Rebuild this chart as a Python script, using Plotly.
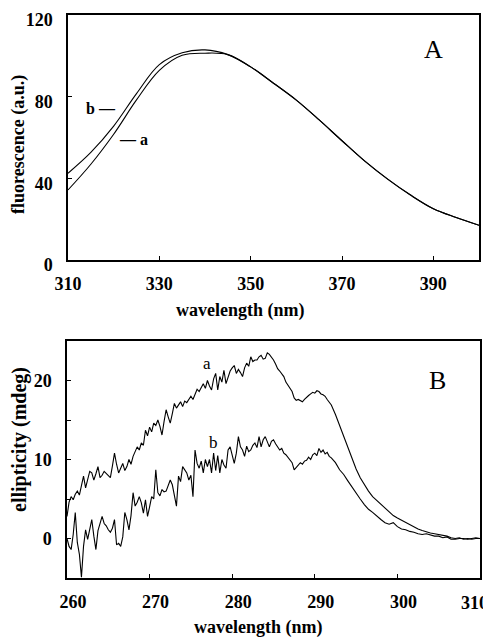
import plotly.graph_objects as go

# ---------------- Panel A: fluorescence ----------------
fl_wl = [310, 315, 320, 325, 330, 335, 340, 345, 350, 355, 360, 365, 370, 375, 380, 385, 390, 395, 400]
fl_a = [34.3, 46.9, 61.6, 78.4, 92.9, 100.3, 101.3, 100.6, 94.6, 86.6, 78.3, 68.6, 58.4, 48.4, 39.6, 31.8, 25.1, 20.8, 17.0]
fl_b = [42.5, 52.7, 65.6, 81.5, 95.7, 101.5, 102.9, 100.6, 94.6, 86.6, 78.3, 68.6, 58.4, 48.4, 39.6, 31.8, 25.1, 20.8, 17.0]
fl_xticks = [310, 330, 350, 370, 390]
fl_yticks = [0, 40, 80, 120]

# ---------------- Panel B: circular dichroism ----------------
# 260.00 .. 292.00 nm in 0.25 nm steps (one row per nm), then 292.5 .. 310 nm in 0.5 nm steps
cd_a_fine = [
    2.8, 4.6, 5.3, 4.9,      # 260
    5.6, 6.0, 5.5, 6.6,      # 261
    7.9, 6.4, 7.6, 8.5,      # 262
    8.3, 7.4, 8.2, 9.1,      # 263
    7.7, 8.0, 8.5, 8.2,      # 264
    7.9, 7.7, 9.2, 10.8,     # 265
    9.4, 8.3, 8.9, 9.5,      # 266
    8.6, 9.1, 10.0, 9.4,     # 267
    10.4, 11.0, 11.6, 11.2,  # 268
    12.1, 11.8, 13.7, 13.0,  # 269
    14.1, 13.5, 14.6, 14.3,  # 270
    15.0, 14.2, 13.1, 14.8,  # 271
    16.3, 15.4, 14.6, 15.8,  # 272
    17.1, 16.5, 16.9, 17.3,  # 273
    16.7, 17.4, 17.2, 17.7,  # 274
    18.0, 17.6, 18.4, 18.9,  # 275
    18.6, 19.2, 19.6, 19.0,  # 276
    20.0, 19.3, 18.8, 20.2,  # 277
    20.9, 18.8, 20.5, 19.8,  # 278
    21.3, 19.6, 20.4, 21.2,  # 279
    21.6, 21.9, 20.9, 21.4,  # 280
    21.0, 20.5, 21.6, 22.2,  # 281
    21.8, 23.0, 22.4, 22.6,  # 282
    22.6, 23.0, 23.2, 22.7,  # 283
    22.8, 23.5, 23.3, 23.0,  # 284
    22.6, 22.1, 21.5, 21.2,  # 285
    20.8, 20.5, 19.8, 19.4,  # 286
    18.9, 18.6, 17.8, 17.5,  # 287
    17.6, 17.5, 17.3, 17.6,  # 288
    17.9, 18.1, 18.3, 18.5,  # 289
    18.4, 18.7, 18.6, 18.3,  # 290
    18.2, 18.0, 17.6, 17.3,  # 291
    16.9,                    # 292
]
cd_a_coarse = [15.7, 14.3, 12.8, 11.4, 10.0, 8.8, 7.7, 6.8, 6.0, 5.3, 4.8, 4.3, 3.8, 3.3, 2.9, 2.6, 2.3, 2.0,
               1.7, 1.4, 1.2, 1.0, 0.8, 0.7, 0.6, 0.5, 0.4, 0.3, 0.1, 0.0, 0.1, -0.1, 0.0, -0.1, 0.0, 0.0]

cd_b_fine = [
    0.0, -1.0, -1.4, 0.5,    # 260
    3.3, -0.5, -2.0, -4.9,   # 261
    -1.0, 1.1, -0.1, 1.2,    # 262
    2.4, 0.3, -1.4, 1.0,     # 263
    2.0, 2.8, 1.9, 1.6,      # 264
    1.1, 0.8, 1.3, 2.4,      # 265
    -0.8, -0.6, -1.0, 0.2,   # 266
    3.3, 2.4, 1.1, 2.9,      # 267
    5.8, 4.1, 4.6, 5.3,      # 268
    4.5, 3.2, 4.9, 2.8,      # 269
    4.0, 5.3, 5.0, 8.7,      # 270
    5.8, 5.4, 6.2, 5.9,      # 271
    6.0, 6.6, 7.4, 6.8,      # 272
    5.5, 4.1, 7.9, 7.2,      # 273
    9.1, 8.6, 8.3, 7.4,      # 274
    8.0, 5.3, 11.2, 9.5,     # 275
    8.9, 9.8, 8.3, 10.0,     # 276
    9.1, 10.0, 8.3, 10.8,    # 277
    8.6, 10.5, 8.3, 10.0,    # 278
    9.3, 8.9, 11.2, 11.6,    # 279
    10.6, 9.5, 10.8, 12.9,   # 280
    11.6, 11.2, 10.4, 11.7,  # 281
    11.0, 11.2, 11.8, 12.1,  # 282
    11.5, 12.9, 11.6, 12.5,  # 283
    12.9, 12.2, 11.6, 12.3,  # 284
    12.5, 12.0, 11.6, 11.2,  # 285
    11.4, 10.8, 10.6, 10.3,  # 286
    10.0, 9.6, 8.7, 9.0,     # 287
    9.3, 9.6, 9.4, 9.8,      # 288
    9.9, 10.3, 10.0, 10.6,   # 289
    10.8, 10.5, 11.4, 10.9,  # 290
    11.2, 10.7, 10.9, 10.4,  # 291
    10.2,                    # 292
]
cd_b_coarse = [9.6, 8.7, 8.1, 7.3, 6.5, 5.8, 5.0, 4.3, 3.7, 3.3, 2.8, 2.4, 2.0, 1.8, 2.0, 1.5, 1.2, 1.1,
               0.9, 0.8, 0.6, 0.5, 0.6, 0.4, 0.3, 0.3, 0.1, 0.2, -0.1, -0.1, 0.0, 0.0, -0.1, 0.0, 0.1, 0.0]

cd_wl = [260 + 0.25 * i for i in range(129)] + [292.5 + 0.5 * i for i in range(36)]
cd_a = cd_a_fine + cd_a_coarse
cd_b = cd_b_fine + cd_b_coarse
cd_xticks = [260, 270, 280, 290, 300, 310]
cd_yticks = [0, 10, 20]
cd_yminor = [5, 15]

W, H = 491, 638
OFF = 8  # page body margin of the browser
SERIF = "Liberation Serif"


def fx(px):
    return (px - OFF) / W


def fy(py):
    return 1 - (py - OFF) / H


fig = go.Figure()
for ys in (fl_a, fl_b):
    fig.add_trace(go.Scatter(x=fl_wl, y=ys, mode="lines", line=dict(color="black", width=1.1, shape="spline"),
                             xaxis="x", yaxis="y", showlegend=False, hoverinfo="skip"))
for ys in (cd_a, cd_b):
    fig.add_trace(go.Scatter(x=cd_wl, y=ys, mode="lines", line=dict(color="black", width=1.1),
                             xaxis="x2", yaxis="y2", showlegend=False, hoverinfo="skip"))

tickfont = dict(family=SERIF, size=18, color="black", weight="bold")
axcommon = dict(showgrid=False, zeroline=False, showline=True, linecolor="black", linewidth=1.5,
                mirror=True, ticks="inside", ticklen=4, tickcolor="black", tickfont=tickfont,
                automargin=False, ticklabeloverflow="allow")

# the last B tick label sits at the very edge of the page, as in the original: it is drawn right-aligned
cd_ticktext = [str(v) if v != cd_xticks[-1] else "" for v in cd_xticks]

fig.update_layout(
    template="none",
    width=W, height=H,
    margin=dict(l=0, r=0, t=0, b=0, autoexpand=False),
    paper_bgcolor="white", plot_bgcolor="white",
    xaxis=dict(domain=[fx(68), fx(479)], range=[310, 400], tickvals=fl_xticks,
               anchor="y", ticklabelstandoff=7, **axcommon),
    yaxis=dict(domain=[fy(260), fy(15)], range=[0, 120], tickvals=fl_yticks,
               anchor="x", ticklabelstandoff=10, ticklabelshift=5, **axcommon),
    xaxis2=dict(domain=[fx(67), fx(480)], range=[260, 310], tickvals=cd_xticks, ticktext=cd_ticktext,
                anchor="y2", ticklabelstandoff=7, ticklabelshift=6, **axcommon),
    yaxis2=dict(domain=[fy(578), fy(341)], range=[-5, 25], tickvals=cd_yticks,
                minor=dict(tickvals=cd_yminor, ticks="inside", ticklen=4, tickcolor="black"),
                anchor="x2", ticklabelstandoff=10, **axcommon),
)

titlefont = dict(family=SERIF, size=18, color="black", weight="bold")
ann = [
    dict(text=str(cd_xticks[-1]), x=cd_xticks[-1], y=fy(603), xref="x2", yref="paper", showarrow=False,
         xanchor="right", yanchor="middle", xshift=10, font=tickfont),
    dict(text="wavelength (nm)", x=fx(240), y=fy(310), xref="paper", yref="paper", showarrow=False,
         xanchor="center", yanchor="middle", font=titlefont),
    dict(text="wavelength (nm)", x=fx(258), y=fy(627), xref="paper", yref="paper", showarrow=False,
         xanchor="center", yanchor="middle", font=titlefont),
    dict(text="fluorescence (a.u.)", x=fx(19), y=fy(145), xref="paper", yref="paper", showarrow=False,
         xanchor="center", yanchor="middle", textangle=-90, font=titlefont),
    dict(text="ellipticity (mdeg)", x=fx(19), y=fy(440), xref="paper", yref="paper", showarrow=False,
         xanchor="center", yanchor="middle", textangle=-90,
         font=dict(family=SERIF, size=20, color="black", weight="bold")),
    dict(text="A", x=390.1, y=102.9, xref="x", yref="y", showarrow=False,
         font=dict(family=SERIF, size=26, color="black")),
    dict(text="B", x=304.8, y=20, xref="x2", yref="y2", showarrow=False,
         font=dict(family=SERIF, size=26, color="black")),
    dict(text="b —", x=313.5, y=74.4, xref="x", yref="y", xanchor="left", showarrow=False,
         font=dict(family=SERIF, size=16, color="black", weight="bold")),
    dict(text="— a", x=320.8, y=58.8, xref="x", yref="y", xanchor="left", showarrow=False,
         font=dict(family=SERIF, size=16, color="black", weight="bold")),
    dict(text="a", x=276.9, y=22.2, xref="x2", yref="y2", showarrow=False,
         font=dict(family=SERIF, size=17, color="black")),
    dict(text="b", x=277.7, y=12.2, xref="x2", yref="y2", showarrow=False,
         font=dict(family=SERIF, size=17, color="black")),
]
fig.update_layout(annotations=ann)

fig.write_html("out.html")
